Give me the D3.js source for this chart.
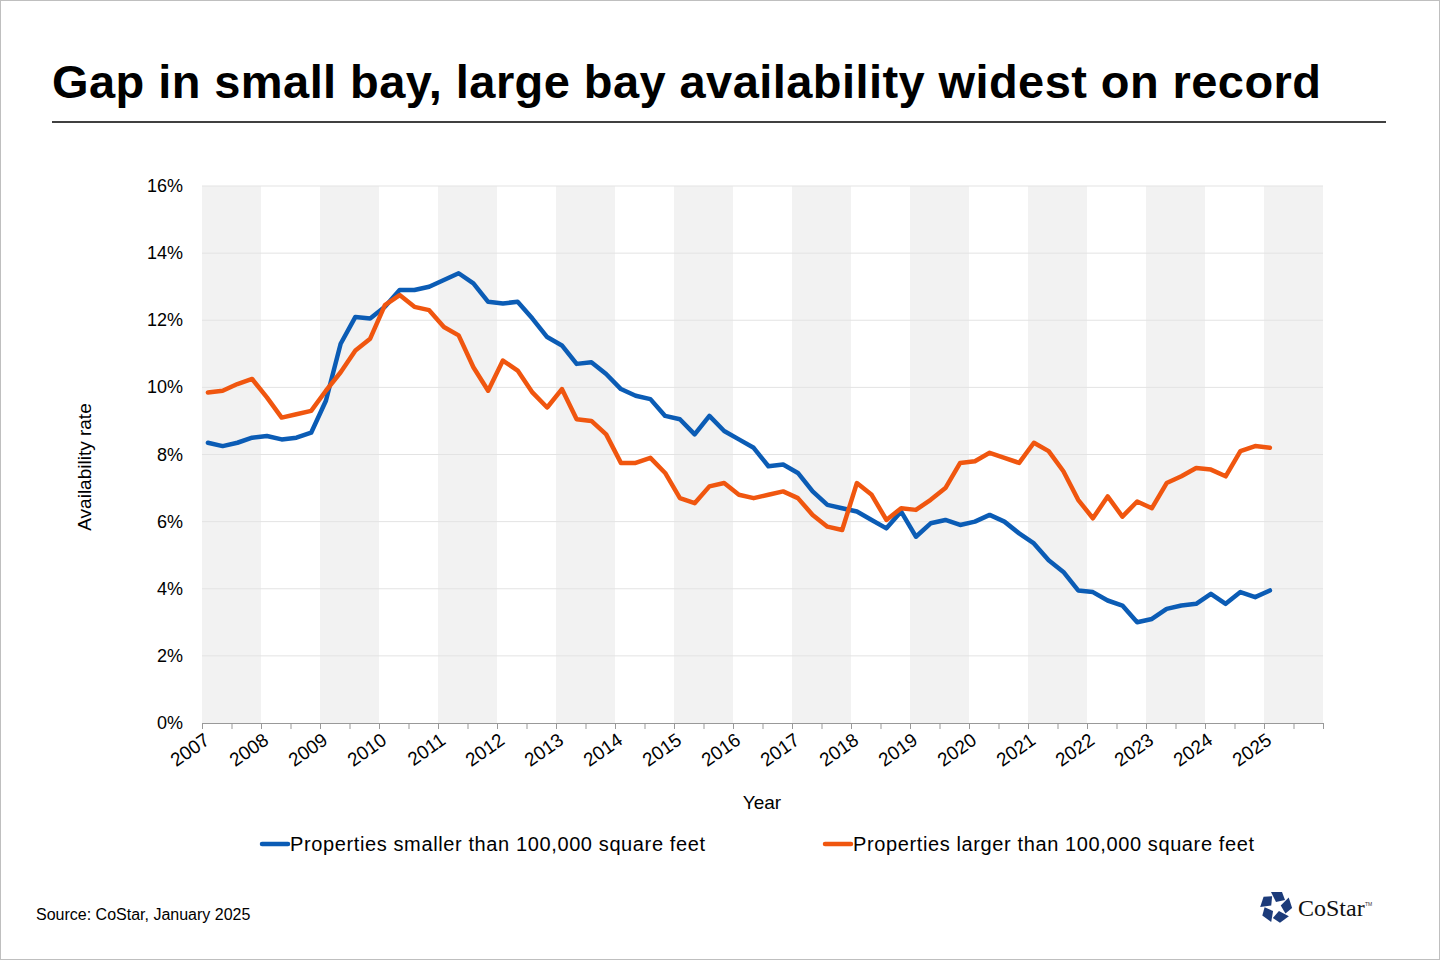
<!DOCTYPE html>
<html>
<head>
<meta charset="utf-8">
<script src="https://cdn.jsdelivr.net/npm/d3@7"></script>
<style>
  body { margin: 0; background: #fff; font-family: "Liberation Sans", Arial, sans-serif; }
  #app { width: 1440px; height: 960px; }
</style>
</head>
<body>
<div id="app"></div>
<script>
// Quarterly availability rate, 2007 Q1 .. 2025 Q1
const years = d3.range(2007, 2026);
const smallBay = [
  8.35, 8.25, 8.35, 8.5,
  8.55, 8.45, 8.5, 8.65,
  9.6, 11.3, 12.1, 12.05,
  12.4, 12.9, 12.9, 13.0,
  13.2, 13.4, 13.1, 12.55,
  12.5, 12.55, 12.05, 11.5,
  11.25, 10.7, 10.75, 10.4,
  9.95, 9.75, 9.65, 9.15,
  9.05, 8.6, 9.15, 8.7,
  8.45, 8.2, 7.65, 7.7,
  7.45, 6.9, 6.5, 6.4,
  6.3, 6.05, 5.8, 6.3,
  5.55, 5.95, 6.05, 5.9,
  6.0, 6.2, 6.0, 5.65,
  5.35, 4.85, 4.5, 3.95,
  3.9, 3.65, 3.5, 3.0,
  3.1, 3.4, 3.5, 3.55,
  3.85, 3.55, 3.9, 3.75,
  3.95
];
const largeBay = [
  9.85, 9.9, 10.1, 10.25,
  9.7, 9.1, 9.2, 9.3,
  9.9, 10.45, 11.1, 11.45,
  12.45, 12.75, 12.4, 12.3,
  11.8, 11.55, 10.6, 9.9,
  10.8, 10.5, 9.85, 9.4,
  9.95, 9.05, 9.0, 8.6,
  7.75, 7.75, 7.9, 7.45,
  6.7, 6.55, 7.05, 7.15,
  6.8, 6.7, 6.8, 6.9,
  6.7, 6.2, 5.85, 5.75,
  7.15, 6.8, 6.05, 6.4,
  6.35, 6.65, 7.0, 7.75,
  7.8, 8.05, 7.9, 7.75,
  8.35, 8.1, 7.5, 6.65,
  6.1, 6.75, 6.15, 6.6,
  6.4, 7.15, 7.35, 7.6,
  7.55, 7.35, 8.1, 8.25,
  8.2
];
const yTicks = [0, 2, 4, 6, 8, 10, 12, 14, 16];
const seriesNames = ['Properties smaller than 100,000 square feet', 'Properties larger than 100,000 square feet'];
const colors = ['#0b5cb5', '#f0560f'];

const svg = d3.select('#app').append('svg').attr('width', 1440).attr('height', 960);
svg.append('rect').attr('x', 0.5).attr('y', 0.5).attr('width', 1439).attr('height', 959)
  .attr('fill', '#fff').attr('stroke', '#bfbfbf');

svg.append('text').attr('x', 52).attr('y', 98).attr('font-size', 47).attr('font-weight', 'bold')
  .attr('textLength', 1269).attr('lengthAdjust', 'spacing')
  .attr('fill', '#000').text('Gap in small bay, large bay availability widest on record');
svg.append('line').attr('x1', 52).attr('x2', 1386).attr('y1', 122).attr('y2', 122)
  .attr('stroke', '#000').attr('stroke-width', 1.5);

const x = d3.scaleLinear().domain([2007, 2026]).range([202, 1323]);
const y = d3.scaleLinear().domain([0, 16]).range([723, 186]);
const qx = (i) => x(2007.1 + i / 4);

// alternating year bands
svg.append('g').selectAll('rect').data(years.filter((yr) => (yr - 2007) % 2 === 0)).enter()
  .append('rect').attr('x', (d) => x(d)).attr('width', (d) => x(d + 1) - x(d))
  .attr('y', y(16)).attr('height', y(0) - y(16)).attr('fill', '#f2f2f2');

// grid
svg.append('g').selectAll('line').data(yTicks.slice(1)).enter().append('line')
  .attr('x1', x(2007)).attr('x2', x(2026)).attr('y1', (d) => y(d)).attr('y2', (d) => y(d))
  .attr('stroke', '#e3e3e3').attr('stroke-width', 1);

// y axis labels
svg.append('g').selectAll('text').data(yTicks).enter().append('text')
  .attr('x', 183).attr('y', (d) => y(d) + 6).attr('text-anchor', 'end')
  .attr('font-size', 18).attr('fill', '#000').text((d) => d + '%');

// x axis
const xAxis = svg.append('g').attr('transform', `translate(0,${y(0)})`)
  .call(d3.axisBottom(x).tickValues(d3.range(2007, 2026.01, 0.5)).tickSize(6).tickFormat(''));
xAxis.select('.domain').attr('stroke', '#999');
xAxis.selectAll('.tick line').attr('stroke', '#999');
svg.append('g').selectAll('text').data(years).enter().append('text')
  .attr('transform', (d) => `translate(${x(d) + 9},${y(0) + 20}) rotate(-35)`)
  .attr('text-anchor', 'end').attr('font-size', 19).attr('fill', '#000').text((d) => d);

svg.append('text').attr('x', 762).attr('y', 809).attr('text-anchor', 'middle')
  .attr('font-size', 19).text('Year');
svg.append('text').attr('transform', 'translate(91,467) rotate(-90)').attr('text-anchor', 'middle')
  .attr('font-size', 19).text('Availability rate');

// lines
const line = d3.line().x((d, i) => qx(i)).y((d) => y(d));
[smallBay, largeBay].forEach((s, k) => {
  svg.append('path').datum(s).attr('d', line).attr('fill', 'none')
    .attr('stroke', colors[k]).attr('stroke-width', 4.5)
    .attr('stroke-linejoin', 'round').attr('stroke-linecap', 'round');
});

// legend
const legendX = [262, 825];
const legendW = [415, 401];
seriesNames.forEach((name, k) => {
  svg.append('line').attr('x1', legendX[k]).attr('x2', legendX[k] + 26).attr('y1', 844).attr('y2', 844)
    .attr('stroke', colors[k]).attr('stroke-width', 4.5).attr('stroke-linecap', 'round');
  svg.append('text').attr('x', legendX[k] + 28).attr('y', 851).attr('font-size', 20)
    .attr('textLength', legendW[k]).attr('lengthAdjust', 'spacing').text(name);
});

svg.append('text').attr('x', 36).attr('y', 920).attr('font-size', 16).text('Source: CoStar, January 2025');

// logo
const logo = svg.append('g').attr('transform', 'translate(1276,907)');
d3.range(5).forEach((i) => {
  logo.append('path').attr('d', 'M-5,-15 L6,-15 L9,-7 L0,-5 Z')
    .attr('transform', `rotate(${i * 72})`).attr('fill', '#1c3b7a');
});
svg.append('text').attr('x', 1298).attr('y', 916).attr('font-family', '"Liberation Serif", serif')
  .attr('font-size', 24).attr('fill', '#111').text('CoStar');
svg.append('text').attr('x', 1365).attr('y', 906).attr('font-size', 5).attr('fill', '#333').text('TM');
</script>
</body>
</html>
